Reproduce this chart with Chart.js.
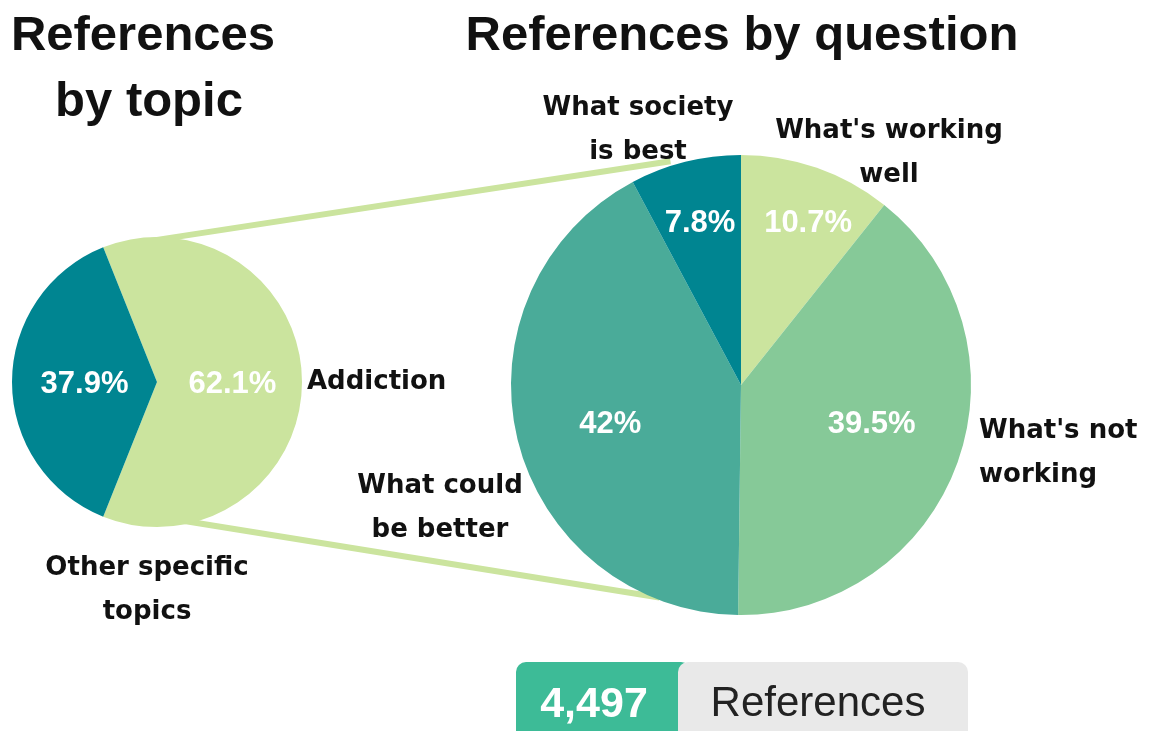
<!DOCTYPE html>
<html>
<head>
<meta charset="utf-8">
<title>References by topic and question</title>
<script src="https://cdn.jsdelivr.net/npm/chart.js@4.4.1/dist/chart.umd.min.js"></script>
<style>
  html, body { margin: 0; padding: 0; background: #ffffff; }
  #page { position: relative; width: 1151px; height: 731px; overflow: hidden; background: #ffffff; }
  #page canvas { position: absolute; left: 0; top: 0; }
  .badge { position: absolute; top: 662px; height: 80px; border-radius: 10px; }
  .badge-text { position: absolute; top: 662px; height: 80px; line-height: 80px; text-align: center;
                font-family: "Liberation Sans", Arial, sans-serif; white-space: nowrap; }
</style>
</head>
<body>
<div id="page">
  <canvas id="questionChart" width="1151" height="731"></canvas>
  <canvas id="topicChart" width="1151" height="731"></canvas>
  <div class="badge" style="left:516px; width:175px; background:#3dbb97;"></div>
  <div class="badge" style="left:678px; width:290px; background:#e9e9e9;"></div>
  <div class="badge-text" id="totalCount" style="left:516px; width:156px; font-size:43px; font-weight:bold; color:#ffffff;"></div>
  <div class="badge-text" id="totalUnit" style="left:678px; width:280px; font-size:42px; color:#222222;"></div>
</div>
<script>
// ---- data ----
const topicLabels = [['Addiction'], ['Other specific', 'topics']];
const topicValues = [62.1, 37.9];

const questionLabels = [["What's working", 'well'], ["What's not", 'working'], ['What could', 'be better'], ['What society', 'is best']];
const questionValues = [10.7, 39.5, 42, 7.8];

const totalReferences = 4497;
const totalUnitLabel = 'References';

// ---- palette & fonts ----
const LIGHT_GREEN = '#cbe49e';
const MID_GREEN = '#86c998';
const SEA_GREEN = '#4aab99';
const DARK_TEAL = '#008591';
const TITLE_FONT = 'bold 49px "Liberation Sans", Arial, sans-serif';
const NAME_FONT = 'bold 26px "DejaVu Sans", sans-serif';
const PCT_SIZE = 31;
const PCT_FONT = 'bold ' + PCT_SIZE + 'px "Liberation Sans", Arial, sans-serif';

// Draws percentages inside slices, category names around the pie and the titles.
const sliceText = {
  id: 'sliceText',
  afterDatasetsDraw(chart, args, opts) {
    const ctx = chart.ctx;
    const meta = chart.getDatasetMeta(0);
    const values = chart.data.datasets[0].data;
    ctx.save();

    ctx.font = PCT_FONT;
    ctx.fillStyle = '#ffffff';
    ctx.textAlign = 'center';
    ctx.textBaseline = 'alphabetic';
    meta.data.forEach((arc, i) => {
      const p = arc.getProps(['x', 'y', 'startAngle', 'endAngle', 'outerRadius'], true);
      const mid = (p.startAngle + p.endAngle) / 2 + (opts.pctTurn[i] || 0) * Math.PI / 180;
      const r = p.outerRadius * opts.pctRadius[i];
      ctx.fillText(values[i] + '%', p.x + Math.cos(mid) * r, p.y + Math.sin(mid) * r + PCT_SIZE * 0.36);
    });

    ctx.font = NAME_FONT;
    ctx.fillStyle = '#111111';
    chart.data.labels.forEach((lines, i) => {
      const pos = opts.namePos[i];
      ctx.textAlign = pos.align;
      lines.forEach((t, k) => ctx.fillText(t, pos.x, pos.y + k * opts.lineHeight));
    });

    ctx.font = TITLE_FONT;
    ctx.textAlign = 'center';
    opts.titles.forEach(t => ctx.fillText(t.text, t.x, t.y));
    ctx.restore();
  }
};

// Connector lines between the two pies, drawn beneath the slices.
// Each entry: [angle on the source pie, angle on the target pie, reach on the target pie].
const connectors = {
  id: 'connectors',
  beforeDatasetsDraw(chart, args, opts) {
    const src = opts.source && opts.source.getDatasetMeta(0).data[0];
    const dst = chart.getDatasetMeta(0).data[0];
    if (!src || !dst) return;
    const ctx = chart.ctx;
    ctx.save();
    ctx.strokeStyle = opts.color;
    ctx.lineWidth = opts.width;
    ctx.lineCap = 'butt';
    opts.pairs.forEach(([a, b, reach]) => {
      const ra = a * Math.PI / 180, rb = b * Math.PI / 180;
      ctx.beginPath();
      ctx.moveTo(src.x + Math.cos(ra) * src.outerRadius * 0.97, src.y + Math.sin(ra) * src.outerRadius * 0.97);
      ctx.lineTo(dst.x + Math.cos(rb) * dst.outerRadius * reach, dst.y + Math.sin(rb) * dst.outerRadius * reach);
      ctx.stroke();
    });
    ctx.restore();
  }
};

const common = {
  responsive: false,
  animation: false,
  events: [],
  plugins: { legend: { display: false }, tooltip: { enabled: false }, title: { display: false } }
};

// Left pie: references by topic, the first slice centred on the right-hand side.
const topicChart = new Chart(document.getElementById('topicChart'), {
  type: 'pie',
  data: {
    labels: topicLabels,
    datasets: [{ data: topicValues, backgroundColor: [LIGHT_GREEN, DARK_TEAL], borderWidth: 0 }]
  },
  options: {
    ...common,
    rotation: 90 - topicValues[0] * 3.6 / 2,
    layout: { padding: { left: 12, top: 237, right: 849, bottom: 204 } },
    plugins: {
      ...common.plugins,
      sliceText: {
        pctRadius: [0.52, 0.5],
        pctTurn: [0, 0],
        lineHeight: 44,
        namePos: [{ x: 307, y: 389, align: 'left' }, { x: 147, y: 575, align: 'center' }],
        titles: [{ text: 'References', x: 143, y: 50 }, { text: 'by topic', x: 149, y: 116 }]
      }
    }
  },
  plugins: [sliceText]
});

// Right pie: references by question, clockwise from twelve o'clock.
const questionChart = new Chart(document.getElementById('questionChart'), {
  type: 'pie',
  data: {
    labels: questionLabels,
    datasets: [{ data: questionValues, backgroundColor: [LIGHT_GREEN, MID_GREEN, SEA_GREEN, DARK_TEAL], borderWidth: 0 }]
  },
  options: {
    ...common,
    rotation: 0,
    layout: { padding: { left: 511, top: 155, right: 180, bottom: 116 } },
    plugins: {
      ...common.plugins,
      connectors: { source: topicChart, pairs: [[-96, -107.5, 1.02], [80, 111, 0.99]], color: LIGHT_GREEN, width: 6 },
      sliceText: {
        pctRadius: [0.77, 0.59, 0.59, 0.735],
        pctTurn: [3, -4, -2, 0],
        lineHeight: 44,
        namePos: [
          { x: 889, y: 138, align: 'center' },
          { x: 979, y: 438, align: 'left' },
          { x: 440, y: 493, align: 'center' },
          { x: 638, y: 115, align: 'center' }
        ],
        titles: [{ text: 'References by question', x: 742, y: 50 }]
      }
    }
  },
  plugins: [connectors, sliceText]
});

document.getElementById('totalCount').textContent = totalReferences.toLocaleString('en-US');
document.getElementById('totalUnit').textContent = totalUnitLabel;
</script>
</body>
</html>
